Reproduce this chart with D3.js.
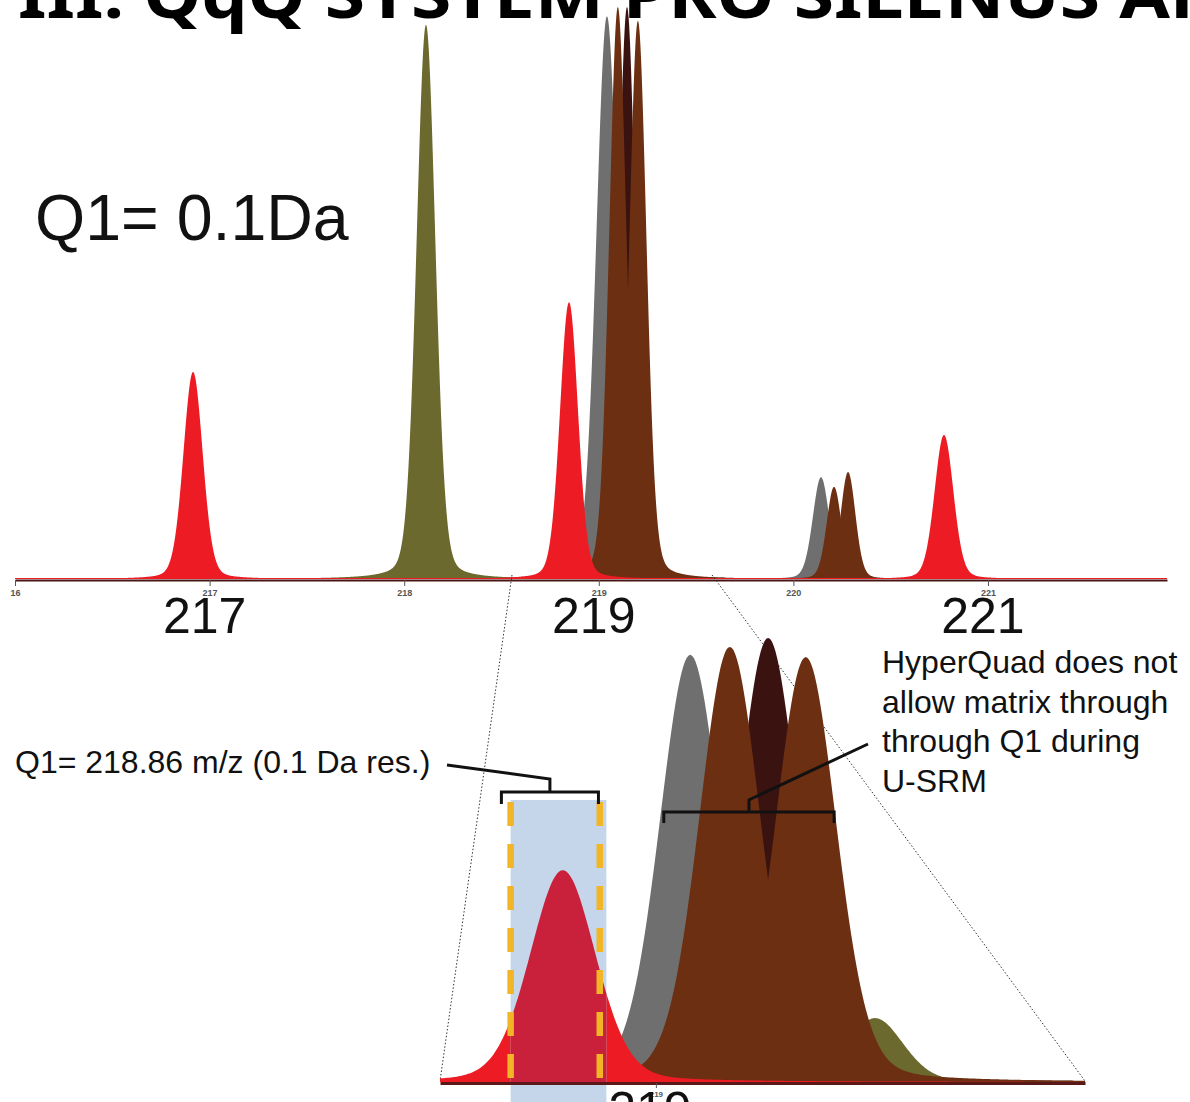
<!DOCTYPE html>
<html>
<head>
<meta charset="utf-8">
<script src="https://cdn.jsdelivr.net/npm/d3@7/dist/d3.min.js"></script>
<style>
    body { margin: 0; background: #fff; }
    svg { display: block; font-family: "Liberation Sans", Arial, sans-serif; }
</style>
</head>
<body>
<div id="chart"></div>
<script>
'use strict'

// full scan, Q1 = 0.1 Da (m/z, relative intensity, peak FWHM, trace)
const topMz     = [216.915, 218.112, 218.847, 219.042, 219.098, 219.145, 219.201, 220.142, 220.209, 220.281, 220.774];
const topHeight = [36.2, 96.9, 48.4, 98.4, 100, 100, 97.6, 17.8, 16.1, 18.7, 25.2];
const topWidth  = [0.118, 0.115, 0.11, 0.13, 0.105, 0.105, 0.105, 0.1, 0.09, 0.09, 0.115];
const topSeries = ["red", "olive", "red", "gray", "brown", "dark", "brown", "gray", "brown", "brown", "red"];
const topTicks      = [216, 217, 218, 219, 220, 221];
const topTickLabels = ["16", "217", "218", "219", "220", "221"];
const bigLabels     = [217, 219, 221];
const zoomRange     = [218.554, 219.582];

// zoomed view around m/z 219
const insetMz     = [218.859, 219.052, 219.112, 219.170, 219.227, 219.332];
const insetHeight = [47.7, 96.2, 98.0, 100, 95.7, 14.4];
const insetWidth  = [0.117, 0.11, 0.11, 0.11, 0.11, 0.1];
const insetSeries = ["red", "gray", "brown", "dark", "brown", "olive"];
const insetTicks  = [219];
const q1Window    = [218.78, 218.915];
const q1Box       = [218.78, 218.925];
const q1Bracket   = [218.766, 218.913];
const matrixBracket = [219.012, 219.27];

const colors = {
    red: "#ed1c24",
    olive: "#6b692d",
    gray: "#6f6f6f",
    brown: "#6c2f12",
    dark: "#3a1311"
};

let width = 1190,
    height = 1102;

let svg = d3.select("#chart").append("svg")
    .attr("width", width)
    .attr("height", height);

let topX = d3.scaleLinear().domain([216, 221.92]).range([15, 1167]),
    topY = d3.scaleLinear().domain([0, 100]).range([579, 7]),
    insetX = d3.scaleLinear().domain([218.673, 219.65]).range([440, 1085]),
    insetY = d3.scaleLinear().domain([0, 100]).range([1082, 638]);

// pseudo-voigt profile of a single listed peak
function profile(c, h, fwhm) {
    let s = fwhm / 2.3548;
    return d3.range(c - 6 * fwhm, c + 6 * fwhm, fwhm / 40).map(function(m) {
        let g = Math.exp(-((m - c) * (m - c)) / (2 * s * s)),
            l = 1 / (1 + Math.pow((m - c) / (fwhm / 2), 2));
        return { m: m, v: h * (0.82 * g + 0.18 * l) };
    });
}

function drawPeaks(g, mz, hts, wds, series, order, x, y, fillFor) {
    let area = d3.area()
        .x(function(d) { return x(d.m); })
        .y0(y(0))
        .y1(function(d) { return y(d.v); });
    order.forEach(function(key) {
        mz.forEach(function(c, i) {
            if (series[i] !== key) return;
            g.append("path")
                .datum(profile(c, hts[i], wds[i]))
                .attr("fill", fillFor ? fillFor(key) : colors[key])
                .attr("d", area);
        });
    });
}

let defs = svg.append("defs");

// clipped heading
svg.append("text")
    .attr("x", 18)
    .attr("y", 18)
    .attr("textLength", 1200)
    .attr("lengthAdjust", "spacingAndGlyphs")
    .style("font-family", "'Noto Sans', 'Open Sans', sans-serif")
    .style("font-weight", "bold")
    .style("font-size", "64px")
    .attr("fill", "#000")
    .text("III. QqQ SYSTEM PRO SILENUS AR");

// top spectrum
let topG = svg.append("g").attr("class", "top");
drawPeaks(topG, topMz, topHeight, topWidth, topSeries, ["gray", "olive", "dark", "brown", "red"], topX, topY);

topG.append("line")
    .attr("x1", topX.range()[0]).attr("x2", topX.range()[1])
    .attr("y1", topY(0) - 0.5).attr("y2", topY(0) - 0.5)
    .attr("stroke", colors.red).attr("stroke-width", 1.2);

let topAxis = topG.append("g")
    .attr("transform", "translate(0," + (topY(0) + 1) + ")")
    .call(d3.axisBottom(topX)
        .tickValues(topTicks)
        .tickSize(6)
        .tickSizeOuter(0)
        .tickPadding(4)
        .tickFormat(function(d, i) { return topTickLabels[i]; }));
topAxis.select(".domain").attr("stroke", "#4a1414").attr("stroke-width", 2);
topAxis.selectAll(".tick line").attr("stroke", "#555").attr("stroke-width", 1);
topAxis.selectAll(".tick text")
    .attr("fill", "#555")
    .style("font-size", "9px")
    .style("font-weight", "bold")
    .style("font-family", "'Liberation Sans Narrow', 'Liberation Sans', sans-serif");

topG.selectAll("text.big")
    .data(bigLabels)
    .enter().append("text")
    .attr("class", "big")
    .attr("x", function(d) { return topX(d) - 5; })
    .attr("y", 633)
    .attr("text-anchor", "middle")
    .attr("fill", "#111")
    .style("font-size", "50px")
    .text(function(d) { return d; });

svg.append("text")
    .attr("x", 35)
    .attr("y", 240)
    .attr("fill", "#111")
    .style("font-size", "64.5px")
    .text("Q1= 0.1Da");

// zoom guide lines
[[zoomRange[0], insetX.range()[0]], [zoomRange[1], insetX.range()[1]]].forEach(function(p) {
    svg.append("line")
        .attr("x1", topX(p[0])).attr("y1", topY(0) - 4)
        .attr("x2", p[1]).attr("y2", insetY(0) - 1)
        .attr("stroke", "#333")
        .attr("stroke-width", 1)
        .attr("stroke-dasharray", "1.5,2");
});

// inset spectrum, clipped to its own m/z window
defs.append("clipPath")
    .attr("id", "insetclip")
    .append("rect")
    .attr("x", insetX.range()[0])
    .attr("y", 0)
    .attr("width", insetX.range()[1] - insetX.range()[0])
    .attr("height", insetY(0));

let inset = svg.append("g").attr("class", "inset");
let insetPeaks = inset.append("g").attr("clip-path", "url(#insetclip)");
drawPeaks(insetPeaks, insetMz, insetHeight, insetWidth, insetSeries, ["olive", "gray", "dark", "brown", "red"], insetX, insetY);

inset.append("rect")
    .attr("x", insetX(q1Box[0]))
    .attr("y", 800)
    .attr("width", insetX(q1Box[1]) - insetX(q1Box[0]))
    .attr("height", height - 800)
    .attr("fill", "#c6d6ea");

defs.append("clipPath")
    .attr("id", "q1clip")
    .append("rect")
    .attr("x", insetX(q1Box[0]))
    .attr("y", 800)
    .attr("width", insetX(q1Box[1]) - insetX(q1Box[0]))
    .attr("height", insetY(0) - 800);

let passed = inset.append("g").attr("clip-path", "url(#q1clip)");
drawPeaks(passed, insetMz, insetHeight, insetWidth, insetSeries, ["red"], insetX, insetY,
    function() { return "#c9213b"; });

let insetAxis = inset.append("g")
    .attr("transform", "translate(0," + (insetY(0) + 1) + ")")
    .call(d3.axisBottom(insetX)
        .tickValues(insetTicks)
        .tickSize(5)
        .tickSizeOuter(0)
        .tickPadding(3)
        .tickFormat(d3.format("d")));
insetAxis.select(".domain").attr("stroke", "#5a1818").attr("stroke-width", 3);
insetAxis.selectAll(".tick line").attr("stroke", "#555");
insetAxis.selectAll(".tick text")
    .attr("fill", "#555")
    .style("font-size", "8px")
    .style("font-weight", "bold")
    .style("font-family", "'Liberation Sans Narrow', 'Liberation Sans', sans-serif");

inset.selectAll("line.q1")
    .data(q1Window)
    .enter().append("line")
    .attr("class", "q1")
    .attr("x1", function(d) { return insetX(d); })
    .attr("x2", function(d) { return insetX(d); })
    .attr("y1", 802)
    .attr("y2", 1092)
    .attr("stroke", "#f1b526")
    .attr("stroke-width", 6.5)
    .attr("stroke-dasharray", "24,18");

inset.append("text")
    .attr("x", insetX(219) - 6)
    .attr("y", 1127)
    .attr("text-anchor", "middle")
    .attr("fill", "#111")
    .style("font-size", "50px")
    .text("219");

// brackets and call-outs
let b0 = insetX(q1Bracket[0]), b1 = insetX(q1Bracket[1]), bm = (b0 + b1) / 2;
svg.append("path")
    .attr("d", "M" + b0 + ",804L" + b0 + ",792L" + b1 + ",792L" + b1 + ",804" +
        "M" + bm + ",792L" + bm + ",779L447,765")
    .attr("fill", "none")
    .attr("stroke", "#111")
    .attr("stroke-width", 3);

let m0 = insetX(matrixBracket[0]), m1 = insetX(matrixBracket[1]), mm = (m0 + m1) / 2;
svg.append("path")
    .attr("d", "M" + m0 + ",823L" + m0 + ",812L" + m1 + ",812L" + m1 + ",823" +
        "M" + mm + ",812L" + mm + ",800L" + (mm + 4) + ",798L868,744")
    .attr("fill", "none")
    .attr("stroke", "#111")
    .attr("stroke-width", 3);

svg.append("text")
    .attr("x", 15)
    .attr("y", 773)
    .attr("fill", "#111")
    .style("font-size", "32px")
    .text("Q1= 218.86 m/z (0.1 Da res.)");

let note = ["HyperQuad does not", "allow matrix through", "through Q1 during", "U-SRM"];
svg.selectAll("text.note")
    .data(note)
    .enter().append("text")
    .attr("class", "note")
    .attr("x", 882)
    .attr("y", function(d, i) { return 673 + i * 39.7; })
    .attr("fill", "#111")
    .style("font-size", "32px")
    .text(function(d) { return d; });
</script>
</body>
</html>
